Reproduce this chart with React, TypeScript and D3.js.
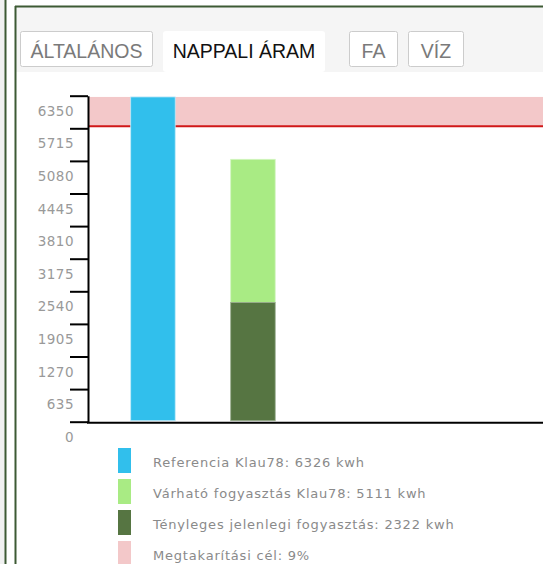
import React, { useEffect, useRef } from "react";
import * as d3 from "d3";

const categories = ["Referencia", "Várható"];
const referenceValue = [6326];
const expectedValue = [5111];
const actualValue = [2322];
const savingGoalPct = [9];
const tickValues = [0, 635, 1270, 1905, 2540, 3175, 3810, 4445, 5080, 5715, 6350];
const tabs = ["ÁLTALÁNOS", "NAPPALI ÁRAM", "FA", "VÍZ"];
const legendLabels = [
  "Referencia Klau78: 6326 kwh",
  "Várható fogyasztás Klau78: 5111 kwh",
  "Tényleges jelenlegi fogyasztás: 2322 kwh",
  "Megtakarítási cél: 9%",
];

const W = 543;
const H = 564;
const COLORS = ["#31bfec", "#a9eb84", "#567542", "#f3c8c9"];

export default function App() {
  const ref = useRef<SVGSVGElement>(null);

  useEffect(() => {
    const svg = d3.select(ref.current);
    svg.selectAll("*").remove();

    // page backgrounds & frame
    svg.append("rect").attr("x", 0).attr("y", 0).attr("width", W).attr("height", H).attr("fill", "#ffffff");
    svg.append("rect").attr("x", 0).attr("y", 0).attr("width", 5).attr("height", H).attr("fill", "#f1f1f1");
    svg.append("rect").attr("x", 16).attr("y", 7).attr("width", W - 16).attr("height", 65).attr("fill", "#f5f5f5");
    svg.append("line").attr("x1", 5.5).attr("x2", 5.5).attr("y1", 0).attr("y2", H).attr("stroke", "#3d5a34").attr("stroke-width", 2);
    svg.append("line").attr("x1", 15.5).attr("x2", 15.5).attr("y1", 6).attr("y2", H).attr("stroke", "#3d5a34").attr("stroke-width", 2);
    svg.append("line").attr("x1", 15).attr("x2", W).attr("y1", 6.5).attr("y2", 6.5).attr("stroke", "#3d5a34").attr("stroke-width", 2);

    // tabs
    const tabBoxes = [
      { x: 20.5, w: 132, active: false },
      { x: 163, w: 162, active: true },
      { x: 349.5, w: 48, active: false },
      { x: 408.5, w: 55, active: false },
    ];
    tabs.forEach((t, i) => {
      const b = tabBoxes[i];
      if (b.active) {
        svg.append("rect").attr("x", b.x).attr("y", 31).attr("width", b.w).attr("height", 41).attr("rx", 3).attr("fill", "#ffffff");
      } else {
        svg.append("rect").attr("x", b.x).attr("y", 31.5).attr("width", b.w).attr("height", 35).attr("rx", 2)
          .attr("fill", "#ffffff").attr("stroke", "#cccccc").attr("stroke-width", 1);
      }
      svg.append("text").attr("x", b.x + b.w / 2).attr("y", 57.5)
        .attr("text-anchor", "middle")
        .attr("font-family", "'Liberation Sans', Arial, sans-serif")
        .attr("font-size", 19.5)
        .attr("fill", b.active ? "#111111" : "#7a7a7a")
        .text(t);
    });

    // scales
    const x = d3.scaleBand<string>().domain(categories).range([88, 317.9]).paddingInner(0.555).paddingOuter(0.427);
    const y = d3.scaleLinear().domain([0, 6350]).range([421.7, 95.7]);

    const ref0 = referenceValue[0];
    const goal = ref0 * (1 - savingGoalPct[0] / 100);

    // saving goal band
    svg.append("rect").attr("x", 89).attr("y", y(ref0)).attr("width", W - 89).attr("height", y(goal) - y(ref0)).attr("fill", COLORS[3]);
    svg.append("line").attr("x1", 89).attr("x2", W).attr("y1", y(goal)).attr("y2", y(goal)).attr("stroke", "#d01818").attr("stroke-width", 2);

    // bars
    const bw = x.bandwidth();
    svg.append("rect").attr("x", x(categories[0])!).attr("y", y(ref0)).attr("width", bw).attr("height", y(0) - 1 - y(ref0))
      .attr("fill", COLORS[0]).attr("stroke", "#bfeafa").attr("stroke-width", 0.8);
    svg.append("rect").attr("x", x(categories[1])!).attr("y", y(expectedValue[0])).attr("width", bw).attr("height", y(actualValue[0]) - y(expectedValue[0]))
      .attr("fill", COLORS[1]).attr("stroke", "#d2f6c0").attr("stroke-width", 0.8);
    svg.append("rect").attr("x", x(categories[1])!).attr("y", y(actualValue[0])).attr("width", bw).attr("height", y(0) - 1 - y(actualValue[0]))
      .attr("fill", COLORS[2]).attr("stroke", "#97ab8c").attr("stroke-width", 0.8);

    // y axis
    const axis = d3.axisLeft(y).tickValues(tickValues).tickSize(18).tickSizeOuter(0).tickFormat((d) => String(d));
    const g = svg.append("g").attr("transform", "translate(88,0)").call(axis);
    g.select(".domain").attr("stroke", "#000").attr("stroke-width", 2);
    g.selectAll(".tick line").attr("stroke", "#000").attr("stroke-width", 2);
    g.selectAll(".tick text")
      .attr("x", -14)
      .attr("dy", "1.45em")
      .attr("font-family", "'DejaVu Sans', Verdana, sans-serif")
      .attr("font-size", 13.5)
      .attr("letter-spacing", 0.5)
      .attr("fill", "#999999");

    // x axis line
    svg.append("line").attr("x1", 87).attr("x2", W).attr("y1", y(0) + 1).attr("y2", y(0) + 1).attr("stroke", "#000").attr("stroke-width", 2);

    // legend
    legendLabels.forEach((l, i) => {
      const top = 448 + i * 31;
      svg.append("rect").attr("x", 118).attr("y", top).attr("width", 13).attr("height", 25).attr("fill", COLORS[i]);
      svg.append("text").attr("x", 153).attr("y", top + 19)
        .attr("font-family", "'DejaVu Sans', Verdana, sans-serif")
        .attr("font-size", 13)
        .attr("letter-spacing", 0.8)
        .attr("fill", "#8a8a8a")
        .text(l);
    });
  }, []);

  return (
    <svg ref={ref} width={W} height={H} style={{ position: "absolute", left: 0, top: 0 }} />
  );
}
